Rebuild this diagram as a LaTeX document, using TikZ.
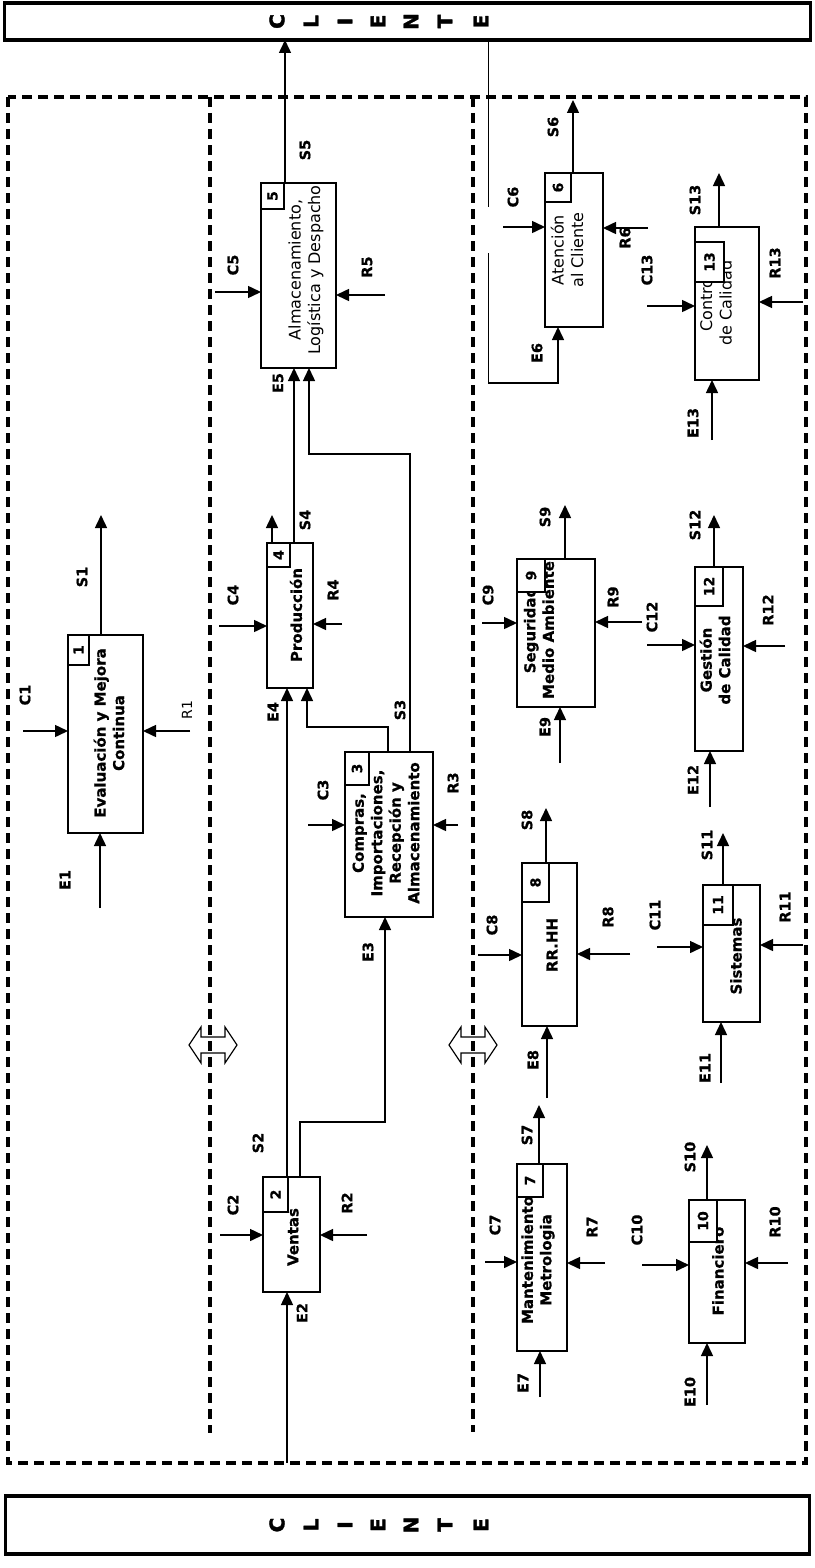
\documentclass[tikz,border=0pt]{standalone}
\usepackage{fontspec}
\usepackage{graphicx}
\setmainfont{DejaVu Sans}
\newfontfamily\heavyfont[FakeBold=2]{DejaVu Sans Bold}
\newfontfamily\lblfont[FakeBold=0.8]{DejaVu Sans Bold}
\usetikzlibrary{arrows.meta,calc}
\newcommand\pbox[5]{\node[box,minimum width={(#4)-(#2)},minimum height={(#5)-(#3)}] (#1) at ({((#2)+(#4))/2},{((#3)+(#5))/2}) {};}
\newcommand\nbox[6]{\node[numbox,minimum width={(#4)-(#2)},minimum height={(#5)-(#3)}] (#1) at ({((#2)+(#4))/2},{((#3)+(#5))/2}) {\rotatebox{90}{#6}};}
\newcommand\cIn[4]{\coordinate (#1) at (#3,#4); \draw[arr] (#1) -- (#1 -| #2.west);}
\newcommand\rIn[4]{\coordinate (#1) at (#3,#4); \draw[arr] (#1) -- (#1 -| #2.east);}
\newcommand\eIn[4]{\coordinate (#1) at (#3,#4); \draw[arr] (#1) -- (#1 |- #2.south);}
\newcommand\sOut[4]{\coordinate (#1) at (#3,#4); \draw[arr] (#1 |- #2.north) -- (#1);}
\begin{document}
\begin{tikzpicture}[x=1pt,y=-1pt,
  box/.style={draw,line width=1.5pt,inner sep=0pt,outer sep=0pt,rectangle},
  numbox/.style={draw,fill=white,line width=1.4pt,inner sep=0pt,outer sep=0pt,font=\lblfont\fontsize{14}{15}\selectfont},
  arr/.style={line width=1.5pt,-{Triangle[length=13pt,width=12pt]}},
  thinln/.style={line width=1pt},
  dashln/.style={line width=3.4pt,dash pattern=on 10pt off 6pt},
  lbl/.style={rotate=90,inner sep=0pt,font=\lblfont\fontsize{14.5}{15}\selectfont},
  lblr/.style={rotate=90,inner sep=0pt,font=\fontsize{14}{15}\selectfont},
  txtB/.style={rotate=90,inner sep=0pt,align=center,font=\lblfont\fontsize{15}{18.5}\selectfont},
  txtR/.style={rotate=90,inner sep=0pt,align=center,font=\fontsize{16}{19.5}\selectfont},
  cli/.style={rotate=90,inner sep=0pt,font=\heavyfont\fontsize{20}{20}\selectfont},
  cbox/.style={draw,line width=3.5pt,inner sep=0pt,outer sep=0pt},
  dblarr/.style={line width=1.2pt}
]
\useasboundingbox (0,0) rectangle (814,1568);

% CLIENTE boxes
\node[cbox,minimum width=806,minimum height=37] (cliTop) at (407.5,21.5) {};
\node[cbox,minimum width=804,minimum height=58] (cliBot) at (407.5,1525) {};
\foreach \ch/\xx [count=\i] in {C/277,L/311,I/345,E/378,N/411,T/445,E/481}{
  \node[cli] (ct\i) at (\xx,21.5) {\ch};
  \node[cli] (cb\i) at (\xx,1525) {\ch};
}

% dashed frames
\draw[dashln] (8,97) rectangle (806,1463);
\draw[dashln] (210,97) -- (210,1433);
\draw[dashln] (473,97) -- (473,1432);

% double arrows
\draw[dblarr,shift={(213,1045)}] (-24,0) -- (-12,-18) -- (-12,-8) -- (12,-8) -- (12,-18) -- (24,0) -- (12,18) -- (12,8) -- (-12,8) -- (-12,18) -- cycle;
\draw[dblarr,shift={(473,1045)}] (-24,0) -- (-12,-18) -- (-12,-8) -- (12,-8) -- (12,-18) -- (24,0) -- (12,18) -- (12,8) -- (-12,8) -- (-12,18) -- cycle;

% ---------- Box 1
\pbox{b1}{68}{635}{143}{833}
\node[txtB] (t1) at (109,733) {Evaluación y Mejora\\Continua};
\nbox{n1}{68}{635}{89}{665}{1}
\cIn{pC1}{b1}{23}{731}
\rIn{pR1}{b1}{190}{731}
\eIn{pE1}{b1}{100}{908}
\sOut{pS1}{b1}{101}{515}
\node[lbl] (lC1) at (25,695) {C1};
\node[lblr] (lR1) at (187,710) {R1};
\node[lbl] (lE1) at (65,880) {E1};
\node[lbl] (lS1) at (82,577) {S1};

% ---------- Box 5
\pbox{b5}{261}{183}{336}{368}
\node[txtR] (t5) at (306,270) {Almacenamiento,\\Logística y Despacho};
\nbox{n5}{261}{183}{284}{209}{5}
\cIn{pC5}{b5}{215}{292}
\rIn{pR5}{b5}{385}{295}
\coordinate (pS5) at (285,0);
\draw[arr] (b5.north -| pS5) -- (cliTop.south -| pS5);
\node[lbl] (lC5) at (233,265) {C5};
\node[lbl] (lR5) at (367,267) {R5};
\node[lbl] (lE5) at (278,383) {E5};
\node[lbl] (lS5) at (305,150) {S5};

% ---------- Box 4
\pbox{b4}{267}{543}{313}{688}
\node[txtB] (t4) at (296,615) {Producción};
\nbox{n4}{267}{543}{290}{567}{4}
\cIn{pC4}{b4}{219}{626}
\rIn{pR4}{b4}{342}{624}
\sOut{pS4}{b4}{272}{515}
\coordinate (pE5) at (294,0);
\draw[arr] (b4.north -| pE5) -- (b5.south -| pE5);
\node[lbl] (lC4) at (233,595) {C4};
\node[lbl] (lR4) at (333,590) {R4};
\node[lbl] (lE4) at (273,712) {E4};
\node[lbl] (lS4) at (305,520) {S4};

% ---------- Box 3
\pbox{b3}{345}{752}{433}{917}
\node[txtB] (t3) at (386,833) {Compras,\\Importaciones,\\Recepción y\\Almacenamiento};
\nbox{n3}{345}{752}{369}{785}{3}
\cIn{pC3}{b3}{308}{825}
\rIn{pR3}{b3}{458}{825}
\coordinate (s3a) at (388,727);
\coordinate (s3b) at (307,727);
\draw[arr] (b3.north -| s3a) -- (s3a) -- (s3b) -- (s3b |- b4.south);
\coordinate (s3c) at (410,454);
\coordinate (s3d) at (309,454);
\draw[arr] (b3.north -| s3c) -- (s3c) -- (s3d) -- (s3d |- b5.south);
\node[lbl] (lC3) at (323,790) {C3};
\node[lbl] (lR3) at (453,783) {R3};
\node[lbl] (lE3) at (368,952) {E3};
\node[lbl] (lS3) at (400,710) {S3};

% ---------- Box 2
\pbox{b2}{263}{1177}{320}{1292}
\node[txtB] (t2) at (293,1237) {Ventas};
\nbox{n2}{263}{1177}{288}{1212}{2}
\cIn{pC2}{b2}{220}{1235}
\rIn{pR2}{b2}{367}{1235}
\eIn{pE2}{b2}{287}{1463}
\draw[arr] (b2.north -| pE2) -- (b4.south -| pE2);
\coordinate (e3a) at (300,1122);
\coordinate (e3b) at (385,1122);
\draw[arr] (b2.north -| e3a) -- (e3a) -- (e3b) -- (e3b |- b3.south);
\node[lbl] (lC2) at (233,1205) {C2};
\node[lbl] (lR2) at (347,1203) {R2};
\node[lbl] (lE2) at (302,1313) {E2};
\node[lbl] (lS2) at (258,1143) {S2};

% ---------- Box 6
\pbox{b6}{545}{173}{603}{327}
\node[txtR] (t6) at (567,250) {Atención\\al Cliente};
\nbox{n6}{545}{173}{571}{202}{6}
\cIn{pC6}{b6}{503}{227}
\rIn{pR6}{b6}{648}{228}
\sOut{pS6}{b6}{573}{100}
\coordinate (e6b) at (488,207);
\coordinate (e6c) at (488,253);
\coordinate (e6d) at (488,383);
\coordinate (e6e) at (558,383);
\draw[thinln] (cliTop.south -| e6b) -- (e6b);
\draw[thinln] (e6c) -- (e6d);
\draw[arr] (e6d) -- (e6e) -- (e6e |- b6.south);
\node[lbl] (lC6) at (513,197) {C6};
\node[lbl] (lR6) at (625,238) {R6};
\node[lbl] (lE6) at (537,353) {E6};
\node[lbl] (lS6) at (553,127) {S6};

% ---------- Box 13
\pbox{b13}{695}{227}{759}{380}
\node[txtR] (t13) at (716,303) {Control\\de Calidad};
\nbox{n13}{695}{242}{724}{282}{13}
\cIn{pC13}{b13}{647}{306}
\rIn{pR13}{b13}{803}{302}
\eIn{pE13}{b13}{712}{440}
\sOut{pS13}{b13}{719}{173}
\node[lbl] (lC13) at (647,270) {C13};
\node[lbl] (lR13) at (775,263) {R13};
\node[lbl] (lE13) at (693,423) {E13};
\node[lbl] (lS13) at (695,200) {S13};

% ---------- Box 9
\pbox{b9}{517}{559}{595}{707}
\node[txtB] (t9) at (539,630) {Seguridad\\Medio Ambiente};
\nbox{n9}{517}{559}{545}{592}{9}
\cIn{pC9}{b9}{482}{623}
\rIn{pR9}{b9}{642}{622}
\eIn{pE9}{b9}{560}{763}
\sOut{pS9}{b9}{565}{505}
\node[lbl] (lC9) at (488,595) {C9};
\node[lbl] (lR9) at (613,597) {R9};
\node[lbl] (lE9) at (545,727) {E9};
\node[lbl] (lS9) at (545,517) {S9};

% ---------- Box 12
\pbox{b12}{695}{567}{743}{751}
\node[txtB] (t12) at (715,660) {Gestión\\de Calidad};
\nbox{n12}{695}{567}{723}{606}{12}
\cIn{pC12}{b12}{647}{645}
\rIn{pR12}{b12}{785}{646}
\eIn{pE12}{b12}{710}{807}
\sOut{pS12}{b12}{714}{515}
\node[lbl] (lC12) at (652,617) {C12};
\node[lbl] (lR12) at (768,610) {R12};
\node[lbl] (lE12) at (693,780) {E12};
\node[lbl] (lS12) at (695,525) {S12};

% ---------- Box 8
\pbox{b8}{522}{863}{577}{1026}
\node[txtB] (t8) at (552,945) {RR.HH};
\nbox{n8}{522}{863}{549}{902}{8}
\cIn{pC8}{b8}{478}{955}
\rIn{pR8}{b8}{630}{954}
\eIn{pE8}{b8}{547}{1098}
\sOut{pS8}{b8}{546}{808}
\node[lbl] (lC8) at (492,925) {C8};
\node[lbl] (lR8) at (608,917) {R8};
\node[lbl] (lE8) at (533,1060) {E8};
\node[lbl] (lS8) at (527,820) {S8};

% ---------- Box 11
\pbox{b11}{703}{885}{760}{1022}
\node[txtB] (t11) at (736,956) {Sistemas};
\nbox{n11}{703}{885}{733}{925}{11}
\cIn{pC11}{b11}{657}{947}
\rIn{pR11}{b11}{803}{945}
\eIn{pE11}{b11}{721}{1083}
\sOut{pS11}{b11}{723}{833}
\node[lbl] (lC11) at (655,915) {C11};
\node[lbl] (lR11) at (785,907) {R11};
\node[lbl] (lE11) at (705,1068) {E11};
\node[lbl] (lS11) at (707,845) {S11};

% ---------- Box 7
\pbox{b7}{517}{1164}{567}{1351}
\node[txtB] (t7) at (538,1260) {Mantenimiento\\Metrologia};
\nbox{n7}{517}{1164}{543}{1197}{7}
\cIn{pC7}{b7}{485}{1262}
\rIn{pR7}{b7}{605}{1263}
\eIn{pE7}{b7}{540}{1397}
\sOut{pS7}{b7}{539}{1105}
\node[lbl] (lC7) at (495,1225) {C7};
\node[lbl] (lR7) at (592,1227) {R7};
\node[lbl] (lE7) at (523,1383) {E7};
\node[lbl] (lS7) at (527,1135) {S7};

% ---------- Box 10
\pbox{b10}{689}{1200}{745}{1343}
\node[txtB] (t10) at (718,1271) {Financiero};
\nbox{n10}{689}{1200}{717}{1242}{10}
\cIn{pC10}{b10}{642}{1265}
\rIn{pR10}{b10}{788}{1263}
\eIn{pE10}{b10}{707}{1405}
\sOut{pS10}{b10}{707}{1145}
\node[lbl] (lC10) at (637,1230) {C10};
\node[lbl] (lR10) at (775,1222) {R10};
\node[lbl] (lE10) at (690,1392) {E10};
\node[lbl] (lS10) at (690,1157) {S10};
\end{tikzpicture}
\end{document}
